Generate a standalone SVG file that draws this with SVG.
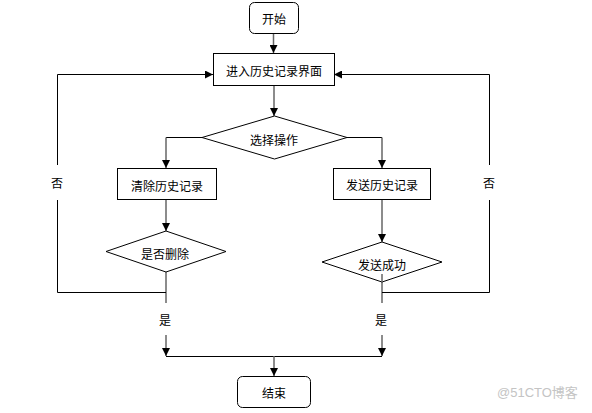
<svg xmlns="http://www.w3.org/2000/svg" width="592" height="413" viewBox="0 0 592 413">
<style>
.n{fill:#fff;stroke:#000;stroke-width:1}
.t{font-family:"Noto Sans CJK SC","Liberation Sans",sans-serif;font-size:12px;fill:#000;text-anchor:middle;dominant-baseline:central}
.c{fill:none;stroke:#000;stroke-width:1}
.g{fill:none;stroke:#666;stroke-width:1.5}
.wm{font-family:"Liberation Sans","Noto Sans CJK SC",sans-serif;font-size:13px;fill:#c4c4c4}
</style>
<defs>
<marker id="ah" viewBox="0 0 10 10" refX="10" refY="5" markerWidth="8" markerHeight="8" markerUnits="userSpaceOnUse" orient="auto">
<path d="M0,0 L10,5 L0,10 z" fill="#000"/>
</marker>
</defs>
<rect width="592" height="413" fill="#fff"/>
<g id="connectors">
<path class="g" d="M273.5,33 V53" marker-end="url(#ah)"/>
<path class="g" d="M274,85 V116" marker-end="url(#ah)"/>
<path class="c" d="M202,137.5 H166" />
<path class="g" d="M166,137.5 V168" marker-end="url(#ah)"/>
<path class="c" d="M347,137.5 H382" />
<path class="g" d="M382,137.5 V168" marker-end="url(#ah)"/>
<path class="g" d="M166,200 V231" marker-end="url(#ah)"/>
<path class="g" d="M382,200 V242" marker-end="url(#ah)"/>
<path class="g" d="M166,272 V303"/>
<path class="g" d="M166,335 V356" marker-end="url(#ah)"/>
<path class="g" d="M382,274 V303"/>
<path class="g" d="M382,335 V356" marker-end="url(#ah)"/>
<path class="c" d="M166,356.5 H382"/>
<path class="g" d="M274,356 V376" marker-end="url(#ah)"/>
<path class="c" d="M166,292.5 H57.5 V200"/>
<path class="c" d="M57.5,165 V74.5 H213" marker-end="url(#ah)"/>
<path class="c" d="M382,292.5 H489.5 V200"/>
<path class="c" d="M489.5,165 V74.5 H334" marker-end="url(#ah)"/>
<text class="t" x="57" y="182">否</text>
<text class="t" x="489" y="182">否</text>
<text class="t" x="165" y="319">是</text>
<text class="t" x="381" y="319">是</text>
</g>
<g id="start">
<rect class="n" x="249.5" y="2.5" width="49" height="31" rx="5"/>
<text class="t" x="274" y="18">开始</text>
</g>
<g id="history">
<rect class="n" x="213.5" y="53.5" width="121" height="32"/>
<text class="t" x="274" y="70">进入历史记录界面</text>
</g>
<g id="choose">
<polygon class="n" points="274.5,116 347,137.5 274.5,159 202,137.5"/>
<text class="t" x="274" y="139">选择操作</text>
</g>
<g id="clear">
<rect class="n" x="117.5" y="168.5" width="99" height="31"/>
<text class="t" x="167" y="185">清除历史记录</text>
</g>
<g id="send">
<rect class="n" x="333.5" y="168.5" width="97" height="31"/>
<text class="t" x="382" y="184">发送历史记录</text>
</g>
<g id="confirmDelete">
<polygon class="n" points="166,231 226,251.5 166,272 106,251.5"/>
<text class="t" x="165" y="253">是否删除</text>
</g>
<g id="sendOk">
<polygon class="n" points="382,242 442,262 382,282 322,262"/>
<text class="t" x="382" y="264">发送成功</text>
</g>
<path class="g" d="M382,274 V282"/>
<g id="end">
<rect class="n" x="237.5" y="376.5" width="73" height="31" rx="5"/>
<text class="t" x="274" y="392">结束</text>
</g>
<text class="wm" x="497" y="397">@51CTO博客</text>
</svg>
